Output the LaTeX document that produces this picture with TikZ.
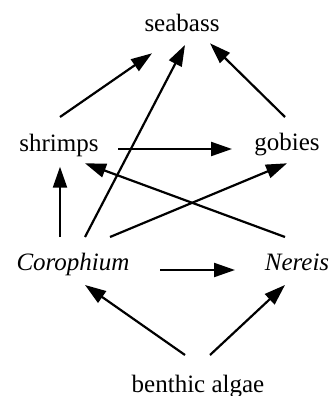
\documentclass[tikz,border=0pt]{standalone}
\usepackage{fontspec}
\setmainfont{Liberation Serif}
\newfontfamily\lserif{Liberation Serif}
\usetikzlibrary{arrows.meta,calc}
\begin{document}
\begin{tikzpicture}[x=1pt,y=-1pt,
  lbl/.style={anchor=base,inner sep=0pt,font=\lserif\fontsize{25}{30}\selectfont},
  arr/.style={line width=2.2pt,-{Triangle[length=21pt,width=14pt]}}]
\useasboundingbox (0,0) rectangle (333,396);
\node[lbl] (sb) at (182,31.7) {seabass};
\node[lbl] (sh) at (59,151) {shrimps};
\node[lbl] (go) at (287,150) {gobies};
\node[lbl] (co) at (73,270) {\itshape Corophium};
\node[lbl] (ne) at (297,270) {\itshape Nereis};
\node[lbl] (ba) at (198,392) {benthic algae};
\draw[arr] ($(sh.base)+(1,-34)$) -- ($(sb.base)+(-30,21.6)$);
\draw[arr] ($(co.base)+(12,-33)$) -- ($(sb.base)+(3,13.3)$);
\draw[arr] ($(go.base)+(-2,-33)$) -- ($(sb.base)+(28,11.6)$);
\draw[arr] ($(sh.base)+(59,-2)$) -- ($(go.base)+(-55,-1)$);
\draw[arr] ($(co.base)+(-13,-33)$) -- ($(sh.base)+(1,15.7)$);
\draw[arr] ($(co.base)+(37,-33)$) -- ($(go.base)+(0,13.3)$);
\draw[arr] ($(ne.base)+(-12,-33)$) -- ($(sh.base)+(26,12.3)$);
\draw[arr] ($(co.base)+(87,0)$) -- ($(ne.base)+(-62,0)$);
\draw[arr] ($(ba.base)+(-13,-37)$) -- ($(co.base)+(12,15)$);
\draw[arr] ($(ba.base)+(12,-37)$) -- ($(ne.base)+(-12,15)$);
\end{tikzpicture}
\end{document}
